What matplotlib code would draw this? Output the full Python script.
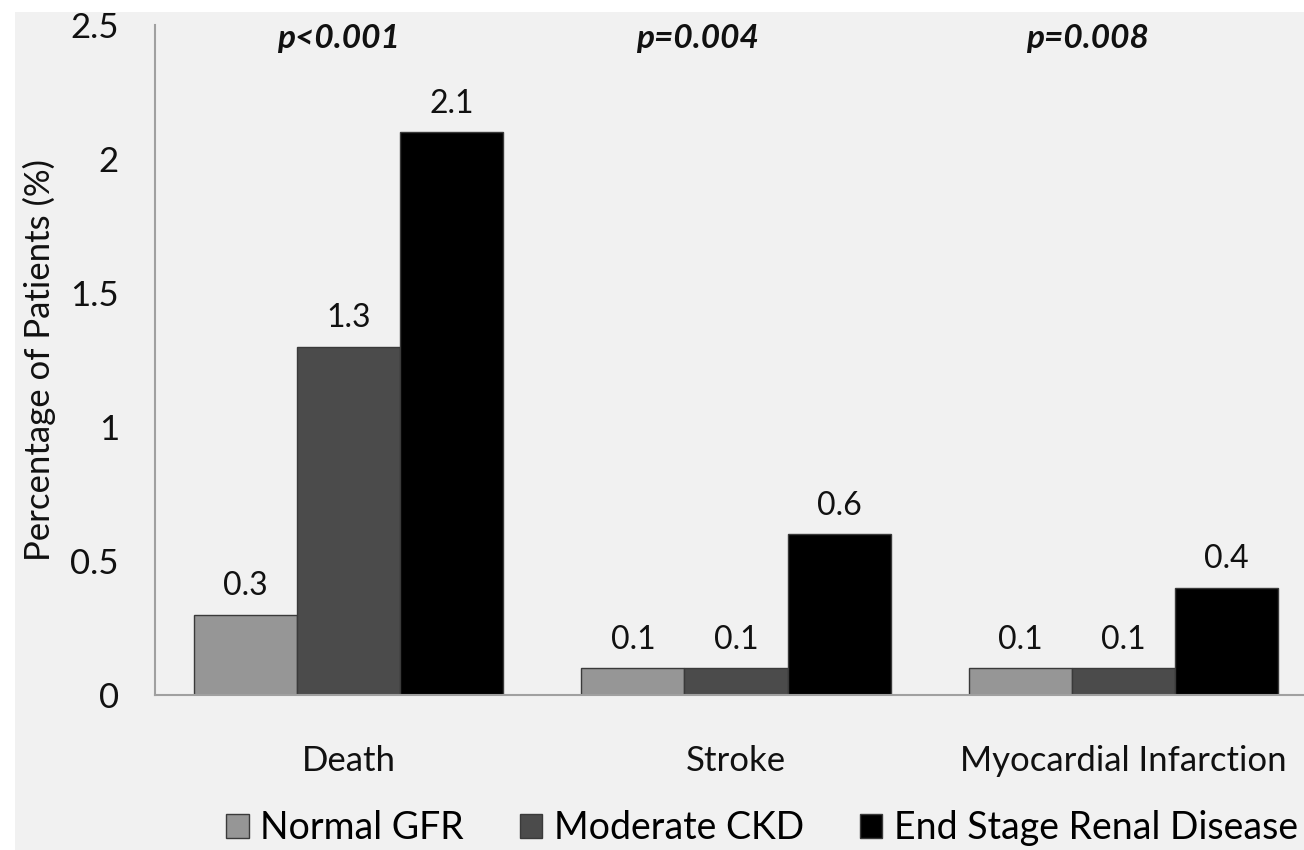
import numpy as np
import matplotlib.pyplot as plt
from matplotlib.patches import Rectangle

categories = ["Death", "Stroke", "Myocardial Infarction"]
groups = ["Normal GFR", "Moderate CKD", "End Stage Renal Disease"]
normal_gfr = [0.3, 0.1, 0.1]
moderate_ckd = [1.3, 0.1, 0.1]
esrd = [2.1, 0.6, 0.4]
p_values = ["p<0.001", "p=0.004", "p=0.008"]
yticks = [0, 0.5, 1, 1.5, 2, 2.5]
yticklabels = ["0", "0.5", "1", "1.5", "2", "2.5"]

plt.rcParams['font.family'] = ['Lato', 'DejaVu Sans']

fig = plt.figure(figsize=(13.04, 8.5), dpi=100)
fig.patch.set_facecolor("white")
# light grey chart area, leaving a thin white margin on top and left
fig.patches.append(Rectangle((15 / 1304, 0), 1, 1 - 12 / 850, transform=fig.transFigure,
                             facecolor="#f1f1f1", edgecolor="none", zorder=-1))

ax = fig.add_axes([155 / 1304, 155 / 850, 1162 / 1304, 670 / 850])
ax.set_facecolor("none")

x = np.arange(len(categories))
w = 0.266
colors = ["#969696", "#4b4b4b", "#000000"]
series = [normal_gfr, moderate_ckd, esrd]
for i, (vals, c, name) in enumerate(zip(series, colors, groups)):
    pos = x + (i - 1) * w
    ax.bar(pos, vals, width=w, color=c, edgecolor="#3a3a3a", linewidth=1, label=name, zorder=2)
    for px, v in zip(pos, vals):
        ax.text(px, v + 0.05, f"{v:g}", ha="center", va="bottom", fontsize=23, color="#111111")

for xi, p, off in zip(x, p_values, [-0.026, -0.10, -0.093]):
    ax.text(xi + off, 2.45, p, ha="center", va="center", fontsize=24,
            fontweight="bold", style="italic", color="#111111")

ax.set_xlim(-0.5, 2.5)
ax.set_ylim(0, 2.5)
ax.set_yticks(yticks)
ax.set_yticklabels(yticklabels, fontsize=25)
ax.set_xticks(x)
ax.set_xticklabels(categories, fontsize=25)
ax.tick_params(axis="both", length=0, colors="#111111")
ax.tick_params(axis="y", pad=26)
ax.tick_params(axis="x", pad=36)
for s in ["top", "right"]:
    ax.spines[s].set_visible(False)
for s in ["left", "bottom"]:
    ax.spines[s].set_color("#a0a0a0")
    ax.spines[s].set_linewidth(1.5)
ax.set_ylabel("Percentage of Patients (%)", fontsize=25, color="#111111", labelpad=10)

fig.legend(loc="center", bbox_to_anchor=(762 / 1304, 1 - 828 / 850), ncol=3,
           frameon=False, fontsize=27, handlelength=0.6, handleheight=0.6,
           handletextpad=0.3, columnspacing=1.5)

fig.savefig("out.png", dpi=100)
